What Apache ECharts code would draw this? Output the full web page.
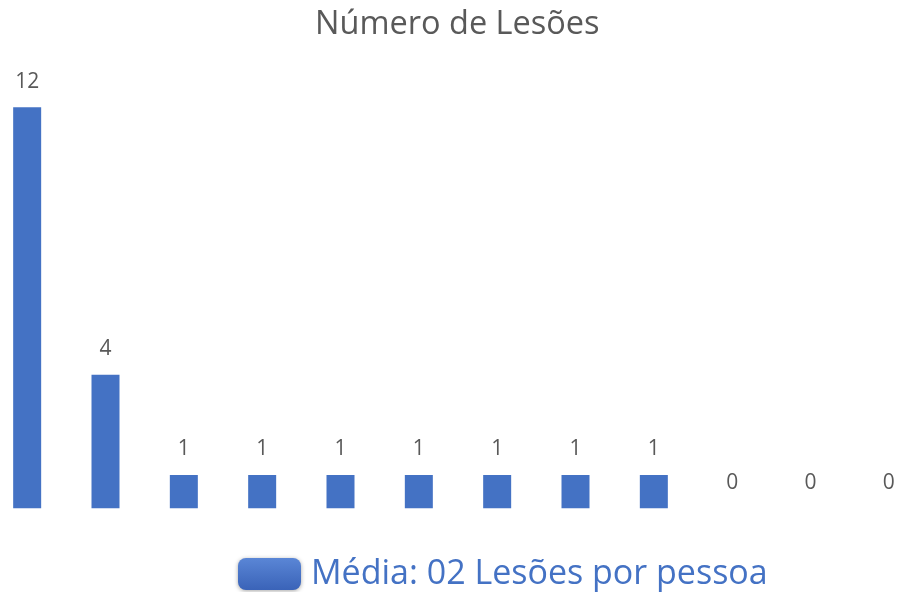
<!DOCTYPE html>
<html>
<head>
<meta charset="utf-8">
<script src="https://cdn.jsdelivr.net/npm/echarts@6/dist/echarts.min.js"></script>
<style>html,body{margin:0;padding:0;background:#fff}#c{width:900px;height:592px}</style>
</head>
<body>
<div id="c"></div>
<script>
const categories = ['1','2','3','4','5','6','7','8','9','10','11','12'];
const values = [12, 4, 1, 1, 1, 1, 1, 1, 1, 0, 0, 0];
const seriesName = 'Média: 02 Lesões por pessoa';
const titleText = 'Número de Lesões';

const chart = echarts.init(document.getElementById('c'), null, {renderer: 'canvas'});
chart.setOption({
  backgroundColor: '#ffffff',
  animation: false,
  title: {
    text: titleText,
    left: 310,
    top: 3,
    textStyle: {fontFamily: 'Open Sans', fontSize: 32.5, fontWeight: 'normal', color: '#595959'}
  },
  legend: {
    left: 233, top: 552,
    itemWidth: 63, itemHeight: 32, itemGap: 10,
    icon: 'roundRect',
    data: [{
      name: seriesName,
      itemStyle: {
        color: new echarts.graphic.LinearGradient(0, 0, 0, 1, [
          {offset: 0, color: '#5a86d6'}, {offset: 1, color: '#3a63b8'}
        ]),
        shadowBlur: 4, shadowColor: 'rgba(0,0,0,0.35)', shadowOffsetY: 1
      }
    }],
    textStyle: {fontFamily: 'Open Sans', fontSize: 34, color: '#4472C4', lineHeight: 32, padding: [0,0,0,5]}
  },
  grid: {left: -12, right: -28, top: 107.3, bottom: 83.7, outerBoundsMode: 'none'},
  xAxis: {
    type: 'category', data: categories,
    show: false
  },
  yAxis: {type: 'value', min: 0, max: 12, show: false},
  series: [{
    name: seriesName,
    type: 'bar',
    data: values,
    barWidth: 28,
    itemStyle: {color: '#4472C4'},
    label: {
      show: true, position: 'top', distance: 15,
      fontFamily: 'Open Sans', fontSize: 21, color: '#595959'
    }
  }]
});
</script>
</body>
</html>
